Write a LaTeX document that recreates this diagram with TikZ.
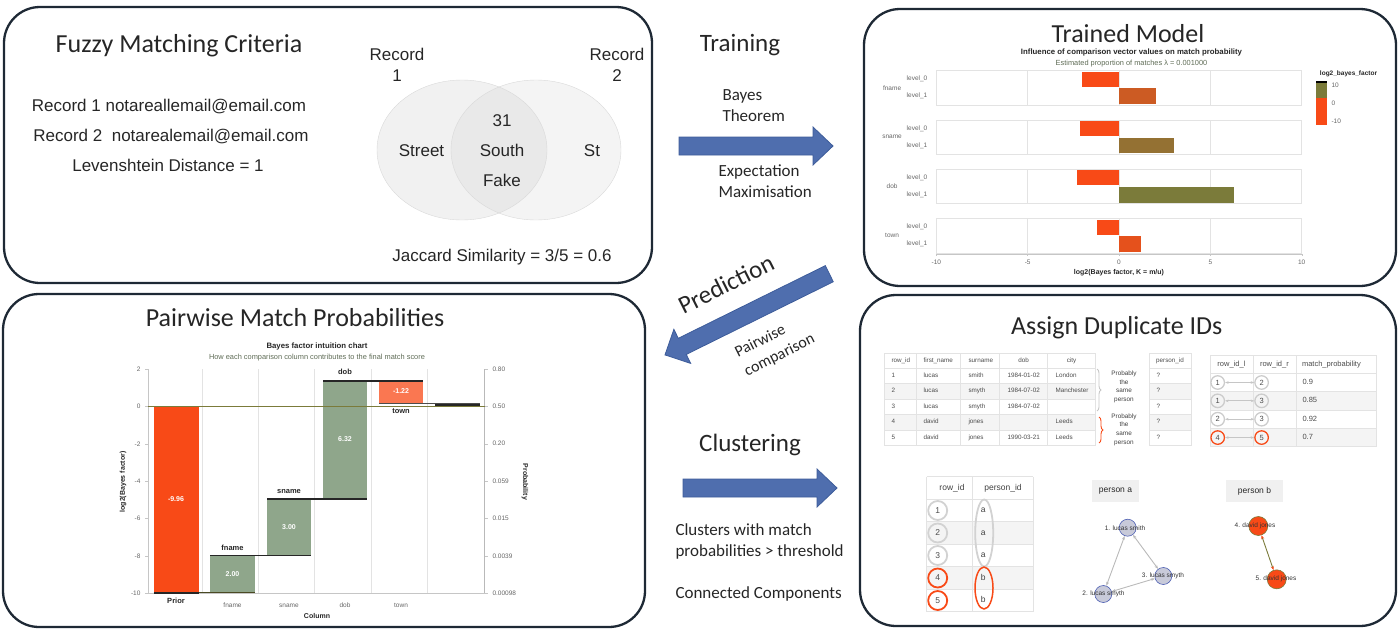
\documentclass[tikz,border=0pt]{standalone}
\usepackage{fontspec}
\setmainfont{Liberation Sans}
\newfontfamily\calibfont{Carlito}
\usetikzlibrary{arrows.meta,decorations.pathreplacing}

\definecolor{panelline}{HTML}{1E2935}
\definecolor{arrowblue}{HTML}{4F6EAE}
\definecolor{arrowedge}{HTML}{3D5C9A}
\definecolor{bfred}{HTML}{F84A17}
\definecolor{bfolive}{HTML}{7B7B3A}
\definecolor{bfgreen}{HTML}{8FA68B}
\definecolor{axisgray}{HTML}{666666}
\definecolor{gridgray}{HTML}{E3E3E3}
\definecolor{subgreen}{HTML}{5E6B55}
\definecolor{nodeblue}{HTML}{C8CAD9}
\definecolor{nodeedge}{HTML}{4B5DB2}
\colorlet{bfmixa}{bfred!65!bfolive}
\colorlet{bfmixb}{bfolive!80!bfred}
\colorlet{bfmixc}{bfred!85!bfolive}
\colorlet{bfmixd}{bfred!75!white}

\tikzset{
  panel/.style={draw=panelline,line width=2.3pt,rounded corners=36pt},
  paneltitle/.style={font=\calibfont\fontsize{26}{30}\selectfont,text=black!85,anchor=base},
  steptitle/.style={font=\calibfont\fontsize{25}{29}\selectfont,text=black!85},
  stepnote/.style={font=\calibfont\fontsize{17}{21}\selectfont,text=black!85,align=left},
  fuzzytext/.style={font=\fontsize{17}{21}\selectfont,text=black!85},
  blockarrow/.style={fill=arrowblue,draw=arrowedge,line width=0.8pt},
  charttitle/.style={font=\bfseries\fontsize{7.8}{9}\selectfont,text=black!85},
  chartsub/.style={font=\fontsize{7.4}{9}\selectfont,text=subgreen},
  ticklabel/.style={font=\fontsize{6.5}{8}\selectfont,text=axisgray},
  axistitle/.style={font=\bfseries\fontsize{7}{8}\selectfont,text=black!85},
  barvalue/.style={font=\bfseries\fontsize{7}{8}\selectfont,text=white},
  barname/.style={font=\bfseries\fontsize{7.5}{9}\selectfont,text=black!85},
  tabline/.style={draw=gray!22,line width=0.6pt},
  rowshade/.style={fill=gray!9},
  tabtext/.style={font=\fontsize{6.3}{8}\selectfont,text=black!70,text height=4.6pt,text depth=1.4pt},
  tabtextb/.style={font=\fontsize{7.5}{9}\selectfont,text=black!70,text height=5.4pt,text depth=1.6pt},
  tabtextc/.style={font=\fontsize{8.5}{10}\selectfont,text=black!75,text height=6.2pt,text depth=1.8pt},
  samenote/.style={font=\fontsize{6.4}{8.6}\selectfont,text=black!75,align=center},
  idring/.style={circle,draw=gray!40,line width=1.3pt,inner sep=0pt,text=black!70},
  gnode/.style={circle,fill=nodeblue,draw=nodeedge,line width=0.6pt,minimum size=17pt,inner sep=0pt},
  glabel/.style={font=\fontsize{6.5}{8}\selectfont,text=black!80},
  gedge/.style={draw=gray!55,line width=0.9pt,{Stealth[length=4pt]}-{Stealth[length=4pt]}},
  personbox/.style={fill=gray!12,minimum height=21.7pt,font=\fontsize{8.5}{10}\selectfont,text=black!85}
}

\begin{document}
\begin{tikzpicture}[x=1pt,y=-1pt]
\useasboundingbox (0,0) rectangle (1400,635);

\draw[panel] (4,7) rectangle (652,283);
\draw[panel] (864,9) rectangle (1396,286);
\draw[panel] (3,294) rectangle (645,627);
\draw[panel] (860,295) rectangle (1396,626);

% fuzzy matching criteria
\node[paneltitle] (fuzzytitle) at (179,52) {Fuzzy Matching Criteria};
\node[fuzzytext,anchor=base] (rec1) at (169,111) {Record 1 notareallemail@email.com};
\node[fuzzytext,anchor=base] (rec2) at (171,141) {Record 2\ \ notarealemail@email.com};
\node[fuzzytext,anchor=base] (leven) at (168,171) {Levenshtein Distance = 1};

\fill[gray!11] (462,150) ellipse [x radius=85,y radius=70];
\fill[gray!9] (536,150) ellipse [x radius=85,y radius=70];
\begin{scope}
  \clip (462,150) ellipse [x radius=85,y radius=70];
  \fill[gray!17] (536,150) ellipse [x radius=85,y radius=70];
\end{scope}
\draw[gray!30] (462,150) ellipse [x radius=85,y radius=70];
\draw[gray!30] (536,150) ellipse [x radius=85,y radius=70];
\node[fuzzytext,align=center] (rec1lab) at (397,65) {Record\\1};
\node[fuzzytext,align=center] (rec2lab) at (617,65) {Record\\2};
\node[fuzzytext,anchor=base] (v31) at (502,126) {31};
\node[fuzzytext,anchor=base] (vstreet) at (421.5,156) {Street};
\node[fuzzytext,anchor=base] (vsouth) at (502,156) {South};
\node[fuzzytext,anchor=base] (vst) at (592,156) {St};
\node[fuzzytext,anchor=base] (vfake) at (502,186) {Fake};
\node[fuzzytext,anchor=base] (jaccard) at (502,261) {Jaccard Similarity = 3/5 = 0.6};

% trained model
\node[paneltitle] (trainedtitle) at (1128,42) {Trained Model};
\node[charttitle] (inftitle) at (1131.5,52.5) {Influence of comparison vector values on match probability};
\node[chartsub] (infsub) at (1131.5,63.5) {Estimated proportion of matches λ = 0.001000};
\begin{scope}[shift={(1119,0)},x=18.27pt]
  \foreach \fac/\yt/\lz/\lo/\lc [count=\i] in {fname/70.7/-2.0/2.0/bfmixa,sname/120/-2.15/3.0/bfmixb,dob/169.3/-2.3/6.32/bfolive,town/218.7/-1.22/1.22/bfmixc}{
    \draw[gridgray,line width=1pt] (-10,\yt) rectangle (10,\yt+34.3);
    \foreach \g in {-5,0,5}
      \draw[gridgray,line width=0.6pt] (\g,\yt) -- (\g,\yt+34.3);
    \fill[bfred] (\lz,\yt+1) rectangle (0,\yt+16);
    \fill[\lc] (0,\yt+17.6) rectangle (\lo,\yt+33.3);
    \node[ticklabel] (fac\i) at (-12.42,\yt+17) {\fac};
    \node[ticklabel,anchor=east] (lvz\i) at (-10.3,\yt+8.5) {level\_0};
    \node[ticklabel,anchor=east] (lvo\i) at (-10.3,\yt+25.5) {level\_1};
  }
  \draw[gray!45,line width=0.8pt] (-10,254) -- (10,254);
  \foreach \tk in {-10,-5,0,5,10}{
    \draw[gray!45] (\tk,254) -- (\tk,256);
    \node[ticklabel] (kx\tk) at (\tk,262) {\tk};
  }
  \node[axistitle] (kxtitle) at (0,272.5) {log2(Bayes factor, K = m/u)};
\end{scope}
\node[axistitle,font=\bfseries\fontsize{6.5}{8}\selectfont] (legtitle) at (1348.5,74) {log2\_bayes\_factor};
\fill[bfolive] (1316,82) rectangle (1327,98);
\fill[bfred] (1316,98) rectangle (1327,125);
\draw[black,line width=1.2pt] (1316,82) -- (1327,82);
\node[ticklabel,anchor=west] (leg10) at (1328,85) {10};
\node[ticklabel,anchor=west] (leg0) at (1328,103) {0};
\node[ticklabel,anchor=west] (legm10) at (1328,121) {-10};

% pairwise match probabilities
\node[paneltitle] (pairtitle) at (295,326) {Pairwise Match Probabilities};
\node[charttitle] (bftitle) at (317,346) {Bayes factor intuition chart};
\node[chartsub] (bfsub) at (317,357.5) {How each comparison column contributes to the final match score};
\begin{scope}[shift={(0,406.3)},y=18.72pt]
  \foreach \gx in {202.5,258,314,371,427}
    \draw[gridgray,line width=0.8pt] (\gx,-10) -- (\gx,2);
  \draw[gray!45,line width=0.6pt] (148,-10) -- (148,2);
  \draw[gray!55,line width=1.1pt] (484.6,-10) -- (484.6,2);
  \draw[gray!45,line width=0.6pt] (148,-10) -- (484.6,-10);
  \foreach \vv/\p in {2/0.80,0/0.50,-2/0.20,-4/0.059,-6/0.015,-8/0.0039,-10/0.00098}{
    \draw[gray!45] (145,\vv) -- (148,\vv) (484.6,\vv) -- (488,\vv);
    \node[ticklabel,anchor=east] (ly\vv) at (144,\vv) {\vv};
    \node[ticklabel,anchor=west] (ry\vv) at (489,\vv) {\p};
  }
  \fill[bfred] (153.6,0) rectangle (199,-9.96);
  \fill[bfgreen] (210,-9.96) rectangle (255,-7.96);
  \fill[bfgreen] (267,-7.96) rectangle (311,-4.96);
  \fill[bfgreen] (323,-4.96) rectangle (367,1.36);
  \fill[bfmixd] (379,1.36) rectangle (423,0.14);
  \fill[black!85] (435,0) rectangle (480,0.16);
  \draw[bfolive,line width=0.9pt] (148,0) -- (484.6,0);
  \draw[black!85,line width=1.5pt] (153.6,-9.96) -- (199,-9.96);
  \draw[bfolive!60!black,line width=0.8pt] (199,-9.96) -- (255,-9.96);
  \draw[black!85,line width=1.5pt] (210,-7.96) -- (311,-7.96);
  \draw[black!85,line width=1.5pt] (267,-4.96) -- (367,-4.96);
  \draw[black!85,line width=1.5pt] (323,1.36) -- (423,1.36);
  \draw[black!70,line width=0.8pt] (379,0.14) -- (480,0.14);
  \node[barvalue] (pv0) at (176,-4.95) {-9.96};
  \node[barvalue] (pv1) at (232.5,-8.96) {2.00};
  \node[barvalue] (pv2) at (289,-6.43) {3.00};
  \node[barvalue] (pv3) at (345,-1.75) {6.32};
  \node[barvalue] (pv4) at (401,0.8) {-1.22};
  \node[barname] (pn0) at (176,-10.38) {Prior};
  \node[barname] (pn1) at (232.5,-7.55) {fname};
  \node[barname] (pn2) at (289,-4.56) {sname};
  \node[barname] (pn3) at (345,1.82) {dob};
  \node[barname] (pn4) at (401,-0.27) {town};
  \foreach \cn/\cx in {fname/232.5,sname/289,dob/345,town/401}
    \node[ticklabel] (cx\cn) at (\cx,-10.63) {\cn};
  \node[axistitle] (coltitle) at (317,-11.2) {Column};
  \node[axistitle,rotate=90] (lytitle) at (123,-4.04) {log2(Bayes factor)};
  \node[axistitle,rotate=-90] (rytitle) at (525,-4.04) {Probability};
\end{scope}

% steps between the panels
\node[steptitle,anchor=base] (training) at (740,51.5) {Training};
\node[stepnote,anchor=west] (bayes) at (719,105.7) {Bayes\\Theorem};
\draw[blockarrow] (679,137) -- (813,137) -- (813,127) -- (833,146) -- (813,165) -- (813,155) -- (679,155) -- cycle;
\node[stepnote,anchor=west] (em) at (715,181.5) {Expectation\\Maximisation};

\begin{scope}[shift={(829.3,273.7)},rotate=206.3]
  \draw[blockarrow] (0,-9) -- (164,-9) -- (164,-19) -- (183.3,0) -- (164,19) -- (164,9) -- (0,9) -- cycle;
\end{scope}
\node[steptitle,rotate=26.6] (prediction) at (726,284) {Prediction};
\node[stepnote,rotate=26.6,font=\calibfont\fontsize{16}{21}\selectfont] (pairwise) at (775,346) {Pairwise\\comparison};

\node[steptitle,anchor=base] (clustering) at (750,451.5) {Clustering};
\draw[blockarrow] (683,479) -- (817,479) -- (817,469) -- (837,488) -- (817,507) -- (817,497) -- (683,497) -- cycle;
\node[stepnote,anchor=west] (clusters) at (672,541.5) {Clusters with match\\probabilities > threshold};
\node[stepnote,anchor=base west] (components) at (672,598) {Connected Components};

% assign duplicate ids
\node[paneltitle] (assigntitle) at (1116.7,334.3) {Assign Duplicate IDs};

\foreach \rw in {2,4}{
  \fill[rowshade] (884.3,{368+15.5*(\rw-1)}) rectangle (1095.6,{368+15.5*\rw});
  \fill[rowshade] (1149,{368+15.5*(\rw-1)}) rectangle (1191.3,{368+15.5*\rw});
}
\foreach \yy in {353.3,368,383.5,399,414.5,430,445.5}{
  \draw[tabline] (884.3,\yy) -- (1095.6,\yy);
  \draw[tabline] (1149,\yy) -- (1191.3,\yy);
}
\foreach \xx in {884.3,915.8,960.7,999.3,1047.6,1095.6,1149,1191.3}
  \draw[tabline] (\xx,353.3) -- (\xx,445.5);
\node[tabtext,anchor=west] (h1id) at (888,360.7) {row\_id};
\node[tabtext,anchor=west] (h1fn) at (920,360.7) {first\_name};
\node[tabtext,anchor=west] (h1sn) at (965,360.7) {surname};
\node[tabtext] (h1db) at (1023.5,360.7) {dob};
\node[tabtext] (h1ct) at (1071.6,360.7) {city};
\node[tabtext] (h1pid) at (1170,360.7) {person\_id};
\foreach \id/\fn/\sn/\db/\ct [count=\rw] in {1/lucas/smith/1984-01-02/London,2/lucas/smyth/1984-07-02/Manchester,3/lucas/smyth/1984-07-02/{},4/david/jones/{}/Leeds,5/david/jones/1990-03-21/Leeds}{
  \node[tabtext,anchor=west] (ra\rw) at (888,{360.2+15.5*\rw}) {\id};
  \node[tabtext,anchor=west] (rb\rw) at (920,{360.2+15.5*\rw}) {\fn};
  \node[tabtext,anchor=west] (rc\rw) at (965,{360.2+15.5*\rw}) {\sn};
  \node[tabtext,anchor=west] (rd\rw) at (1004,{360.2+15.5*\rw}) {\db};
  \node[tabtext,anchor=west] (re\rw) at (1052,{360.2+15.5*\rw}) {\ct};
  \node[tabtext,anchor=west] (rq\rw) at (1153,{360.2+15.5*\rw}) {?};
}
\draw[gray!45,line width=0.9pt,decorate,decoration={brace,amplitude=4pt}] (1097,369) -- (1097,411);
\draw[bfred,line width=0.9pt,decorate,decoration={brace,amplitude=4pt}] (1099,417) -- (1099,443);
\node[samenote] (same1) at (1124,387) {Probably\\the\\same\\person};
\node[samenote] (same2) at (1124,429.5) {Probably\\the\\same\\person};

\foreach \rw in {2,4}
  \fill[rowshade] (1210,{355+18.35*\rw}) rectangle (1376.6,{355+18.35*(\rw+1)});
\foreach \yy in {355,373.3,391.7,410,428.3,446.7}
  \draw[tabline] (1210,\yy) -- (1376.6,\yy);
\foreach \xx in {1210,1252.8,1296,1376.6}
  \draw[tabline] (\xx,355) -- (\xx,446.7);
\node[tabtextb] (h2l) at (1231.4,364.2) {row\_id\_l};
\node[tabtextb] (h2r) at (1274.4,364.2) {row\_id\_r};
\node[tabtextb,anchor=west] (h2p) at (1298.5,364.2) {match\_probability};
\foreach \ia/\ib/\p/\rc/\lw [count=\rw] in {1/2/0.9/gray!40/0.9pt,1/3/0.85/gray!40/0.9pt,2/3/0.92/gray!40/0.9pt,4/5/0.7/bfred/1.4pt}{
  \node[idring,draw=\rc,minimum size=13.5pt,font=\fontsize{7.5}{9}\selectfont] (pl\rw) at (1217.7,{364.15+18.35*\rw}) {\ia};
  \node[idring,draw=\rc,minimum size=13.5pt,font=\fontsize{7.5}{9}\selectfont] (pr\rw) at (1261.6,{364.15+18.35*\rw}) {\ib};
  \draw[gray!45,line width=\lw,{Stealth[length=3.5pt]}-{Stealth[length=3.5pt]}] (pl\rw) -- (pr\rw);
  \node[tabtextb,anchor=west] (pp\rw) at (1299,{364.15+18.35*\rw}) {\p};
}

\fill[rowshade] (926.7,521.7) rectangle (1033.3,544);
\fill[rowshade] (926.7,566.7) rectangle (1033.3,589);
\foreach \yy in {476.7,499.3,521.7,544,566.7,589,611.7}
  \draw[tabline] (926.7,\yy) -- (1033.3,\yy);
\foreach \xx in {926.7,972.7,1033.3}
  \draw[tabline] (\xx,476.7) -- (\xx,611.7);
\node[tabtextc] (h3id) at (952,488) {row\_id};
\node[tabtextc] (h3pid) at (1003,488) {person\_id};
\foreach \id/\pid/\rc [count=\rw] in {1/a/gray!35,2/a/gray!35,3/a/gray!35,4/b/bfred,5/b/bfred}{
  \node[idring,draw=\rc,line width=1.8pt,minimum size=19pt,font=\fontsize{8.5}{10}\selectfont] (cr\rw) at (937.7,{488+22.5*\rw}) {\id};
  \node[tabtextc] (cp\rw) at (983.3,{488+22.5*\rw}) {\pid};
}
\draw[gray!35,line width=1.8pt] (984.2,533) ellipse [x radius=9,y radius=33.5];
\draw[bfred,line width=1.5pt] (984,588) ellipse [x radius=9,y radius=21];

\node[personbox,minimum width=47pt] (persona) at (1115.5,491) {person a};
\node[personbox,minimum width=57pt] (personb) at (1254.5,491) {person b};
\node[gnode] (pa1) at (1127.7,527.7) {};
\node[gnode] (pa2) at (1103.3,594) {};
\node[gnode] (pa3) at (1163.3,576) {};
\draw[gedge] (pa1) -- (pa2);
\draw[gedge] (pa1) -- (pa3);
\draw[gedge] (pa2) -- (pa3);
\node[glabel] (pa1t) at (1125,527.7) {1. lucas smith};
\node[glabel] (pa2t) at (1103.5,594) {2. lucas smyth};
\node[glabel] (pa3t) at (1163,576) {3. lucas smyth};
\node[gnode,fill=bfred,draw=bfolive,minimum size=19pt] (pb4) at (1258.3,526) {};
\node[gnode,fill=bfred,draw=bfolive,minimum size=19pt] (pb5) at (1276.7,579.3) {};
\draw[bfolive,line width=0.9pt,{Stealth[length=4pt,bfred]}-{Stealth[length=4pt,bfred]}] (pb4) -- (pb5);
\node[glabel] (pb4t) at (1255,526) {4. david jones};
\node[glabel] (pb5t) at (1276,579.3) {5. david jones};
\end{tikzpicture}
\end{document}
